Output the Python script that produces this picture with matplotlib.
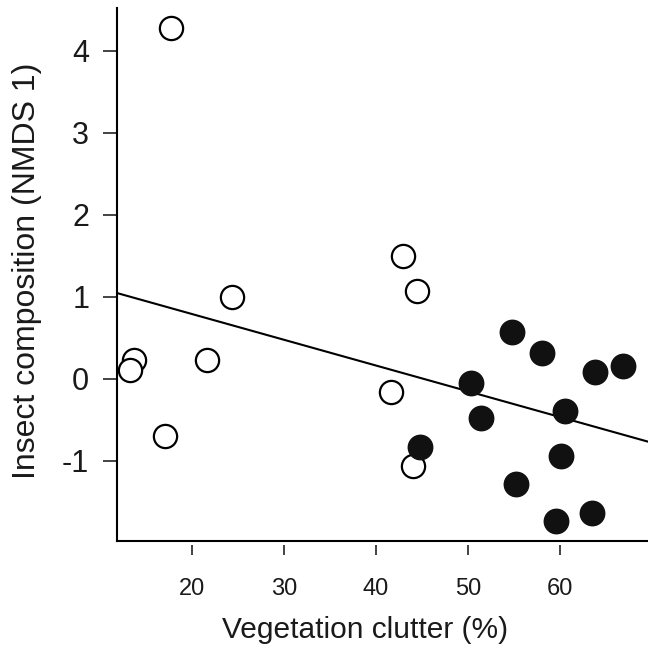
import numpy as np
import matplotlib.pyplot as plt

plt.rcParams['font.family'] = ['Liberation Sans', 'DejaVu Sans']
plt.rcParams['axes.unicode_minus'] = False

# open circles (one group of sites)
open_x = [17.7, 24.3, 42.9, 44.5, 41.6, 44.0, 13.7, 13.3, 21.6, 17.1]
open_y = [4.28, 1.00, 1.50, 1.07, -0.16, -1.06, 0.23, 0.11, 0.23, -0.70]

# filled circles (other group)
filled_x = [54.8, 58.0, 63.8, 66.9, 50.3, 51.4, 60.5, 44.75, 60.1, 55.2, 59.6, 63.5]
filled_y = [0.57, 0.32, 0.09, 0.16, -0.05, -0.48, -0.39, -0.83, -0.94, -1.28, -1.73, -1.63]

# fitted regression line
fit_intercept = 1.42
fit_slope = -0.0314

x_ticks = [20, 30, 40, 50, 60]
y_ticks = [-1, 0, 1, 2, 3, 4]

fig = plt.figure(figsize=(6.48, 6.52), dpi=100)
ax = fig.add_axes([117 / 648, 1 - 541 / 652, 531 / 648, 533 / 652])

xlim = (11.85, 69.57)
ax.set_xlim(xlim)
ax.set_ylim(-1.976, 4.524)

xs = np.array(xlim)
ax.plot(xs, fit_intercept + fit_slope * xs, color='black', lw=1.5, zorder=2)

ax.scatter(open_x, open_y, s=280, facecolor='white', edgecolor='black',
           linewidth=1.6, zorder=3)
ax.scatter(filled_x, filled_y, s=310, facecolor='#111111', edgecolor='#111111',
           linewidth=1.0, zorder=4)

# L-shaped box; x ticks sit slightly below the box line
for side in ['top', 'right']:
    ax.spines[side].set_visible(False)
ax.spines['left'].set_linewidth(1.5)
ax.spines['bottom'].set_position(('outward', 3))
ax.spines['bottom'].set_visible(False)
ax.plot([0, 1], [0, 0], transform=ax.transAxes, color='black', lw=1.5,
        clip_on=False, solid_capstyle='projecting')

ax.set_xticks(x_ticks)
ax.set_yticks(y_ticks)
ax.tick_params(axis='x', length=7.5, width=1.2, pad=16, labelsize=17,
               color='#222222', labelcolor='#1a1a1a')
ax.tick_params(axis='y', length=10, width=1.2, pad=10, labelsize=22,
               color='#222222', labelcolor='#1a1a1a')

ax.set_xlabel('Vegetation clutter (%)', fontsize=21.5, color='#1a1a1a')
ax.xaxis.set_label_coords(0.467, -0.141)
ax.set_ylabel('Insect composition (NMDS 1)', fontsize=23, color='#1a1a1a')
ax.yaxis.set_label_coords(-0.141, 0.507)

fig.savefig('out.png', dpi=100)
